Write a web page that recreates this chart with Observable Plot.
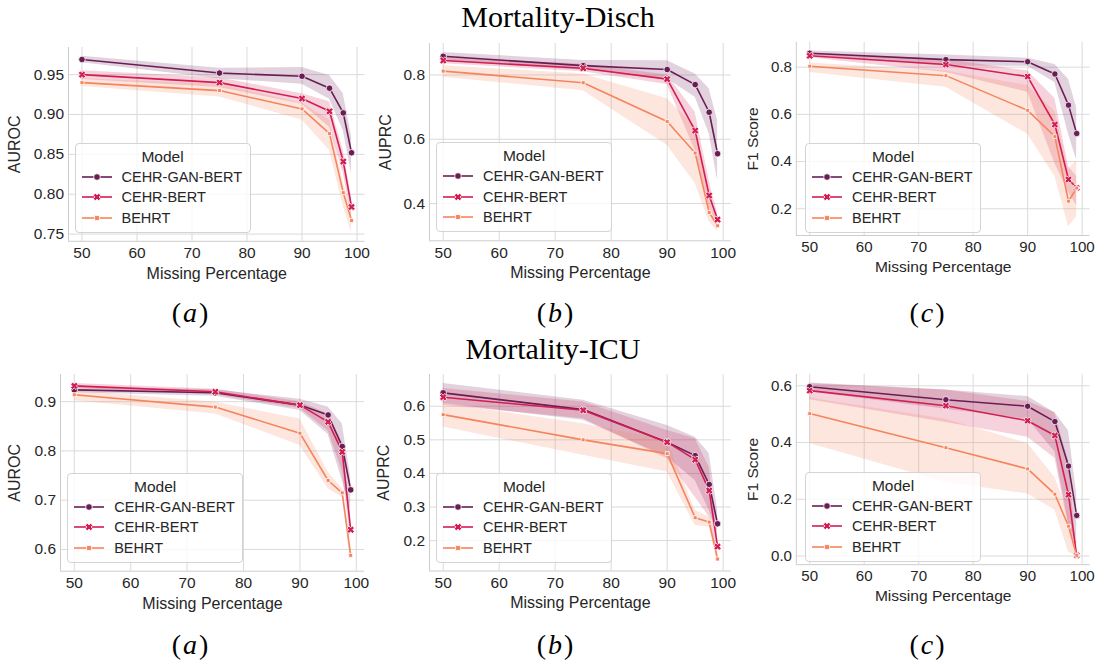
<!DOCTYPE html>
<html><head><meta charset="utf-8">
<script src="https://cdn.jsdelivr.net/npm/d3@7"></script>
<script src="https://cdn.jsdelivr.net/npm/@observablehq/plot@0.6"></script>
<style>
body{margin:0;background:#fff;}
#fig{position:relative;width:1109px;height:664px;overflow:hidden;background:#fff;font-family:"Liberation Sans",Arial,sans-serif;color:#262626;}
.panel{position:absolute;}
.panel svg{overflow:visible;}
.panel svg text{font-size:15.5px;fill:#262626;}
.panel svg g[aria-label$="axis label"] text{font-size:16px;}
.legend{position:absolute;border:1px solid #d4d4d4;border-radius:4px;background:rgba(255,255,255,0.8);box-sizing:border-box;}
.legend .lt{position:absolute;left:0;right:0;text-align:center;font-size:15.5px;line-height:16px;}
.legend .row{position:absolute;left:0;height:18px;font-size:14.5px;line-height:18px;white-space:nowrap;}
.legend .row svg{position:absolute;left:5px;top:0;}
.legend .row span{position:absolute;left:46px;top:0;}
#overlay{position:absolute;left:0;top:0;pointer-events:none;}
</style></head>
<body><div id="fig"></div>
<script>
// ---------------- data ----------------
const missing = [50, 75, 90, 95, 97.5, 99];
const xTicks = [50, 60, 70, 80, 90, 100];
const models = ["CEHR-GAN-BERT", "CEHR-BERT", "BEHRT"];
const modelColors = ["#6a1d55", "#d31d52", "#f5845c"];

// Mortality-Disch : AUROC
const dischAurocMean = [[0.969,0.952,0.948,0.933,0.902,0.852],[0.950,0.940,0.920,0.904,0.841,0.784],[0.940,0.930,0.907,0.876,0.802,0.767]];
const dischAurocLo   = [[0.965,0.945,0.938,0.919,0.880,0.826],[0.944,0.934,0.913,0.884,0.826,0.771],[0.935,0.922,0.893,0.855,0.785,0.752]];
const dischAurocHi   = [[0.973,0.958,0.959,0.949,0.926,0.872],[0.955,0.946,0.926,0.916,0.855,0.796],[0.945,0.938,0.914,0.893,0.815,0.779]];
// Mortality-Disch : AUPRC
const dischAuprcMean = [[0.858,0.829,0.817,0.770,0.684,0.555],[0.845,0.821,0.787,0.627,0.425,0.350],[0.812,0.776,0.655,0.557,0.372,0.331]];
const dischAuprcLo   = [[0.844,0.815,0.788,0.731,0.617,0.472],[0.835,0.810,0.770,0.565,0.390,0.333],[0.793,0.751,0.581,0.462,0.343,0.312]];
const dischAuprcHi   = [[0.870,0.845,0.844,0.803,0.757,0.658],[0.855,0.833,0.800,0.684,0.472,0.369],[0.829,0.803,0.726,0.638,0.410,0.343]];
// Mortality-Disch : F1
const dischF1Mean = [[0.859,0.832,0.823,0.771,0.639,0.519],[0.848,0.811,0.760,0.557,0.324,0.289],[0.804,0.764,0.617,0.506,0.232,0.288]];
const dischF1Lo   = [[0.850,0.804,0.804,0.735,0.516,0.406],[0.840,0.777,0.694,0.392,0.269,0.214],[0.777,0.715,0.516,0.337,0.124,0.166]];
const dischF1Hi   = [[0.868,0.852,0.838,0.811,0.749,0.626],[0.858,0.832,0.784,0.667,0.378,0.337],[0.818,0.784,0.722,0.612,0.365,0.406]];
// Mortality-ICU : AUROC
const icuAurocMean = [[0.924,0.918,0.893,0.873,0.809,0.721],[0.932,0.920,0.893,0.859,0.798,0.640],[0.914,0.889,0.836,0.740,0.715,0.588]];
const icuAurocLo   = [[0.918,0.911,0.882,0.834,0.740,0.679],[0.927,0.914,0.886,0.841,0.760,0.618],[0.902,0.875,0.811,0.723,0.706,0.574]];
const icuAurocHi   = [[0.930,0.924,0.905,0.889,0.855,0.747],[0.937,0.925,0.900,0.875,0.818,0.665],[0.922,0.899,0.865,0.757,0.723,0.598]];
// Mortality-ICU : AUPRC
const icuAuprcMean = [[0.640,0.590,0.493,0.453,0.367,0.250],[0.627,0.588,0.493,0.441,0.349,0.182],[0.575,0.500,0.459,0.268,0.255,0.145]];
const icuAuprcLo   = [[0.608,0.558,0.449,0.379,0.290,0.220],[0.603,0.563,0.444,0.329,0.270,0.155],[0.538,0.454,0.404,0.245,0.240,0.136]];
const icuAuprcHi   = [[0.668,0.618,0.543,0.508,0.459,0.290],[0.653,0.613,0.528,0.503,0.418,0.210],[0.608,0.548,0.498,0.290,0.270,0.155]];
// Mortality-ICU : F1
const icuF1Mean = [[0.597,0.551,0.528,0.474,0.317,0.143],[0.583,0.530,0.477,0.425,0.216,0.002],[0.502,0.382,0.307,0.218,0.105,0.002]];
const icuF1Lo   = [[0.579,0.517,0.482,0.368,0.117,0.037],[0.551,0.471,0.419,0.345,0.105,0.000],[0.397,0.259,0.219,0.162,0.014,0.000]];
const icuF1Hi   = [[0.610,0.585,0.562,0.505,0.442,0.219],[0.607,0.585,0.545,0.505,0.334,0.014],[0.557,0.482,0.397,0.277,0.151,0.008]];

const ticksAurocDisch = [0.75, 0.80, 0.85, 0.90, 0.95];
const ticksAuprcDisch = [0.4, 0.6, 0.8];
const ticksF1Disch = [0.2, 0.4, 0.6, 0.8];
const ticksAurocIcu = [0.6, 0.7, 0.8, 0.9];
const ticksAuprcIcu = [0.2, 0.3, 0.4, 0.5, 0.6];
const ticksF1Icu = [0.0, 0.2, 0.4, 0.6];

const titles = ["Mortality-Disch", "Mortality-ICU"];
const subLetters = ["a", "b", "c"];

// ---------------- layout ----------------
const panels = [
  {label:"AUROC", mean:dischAurocMean, lo:dischAurocLo, hi:dischAurocHi, ticks:ticksAurocDisch, fmt:".2f", frame:[67.5,364,46.7,240.5], ylab:60},
  {label:"AUPRC", mean:dischAuprcMean, lo:dischAuprcLo, hi:dischAuprcHi, ticks:ticksAuprcDisch, fmt:".1f", frame:[429,730.8,42.7,240], ylab:49.5},
  {label:"F1 Score", mean:dischF1Mean, lo:dischF1Lo, hi:dischF1Hi, ticks:ticksF1Disch, fmt:".1f", frame:[798,1099.8,42,240.5], ylab:50.5},
  {label:"AUROC", mean:icuAurocMean, lo:icuAurocLo, hi:icuAurocHi, ticks:ticksAurocIcu, fmt:".1f", frame:[60.2,364.2,374,570.7], ylab:51.5},
  {label:"AUPRC", mean:icuAuprcMean, lo:icuAuprcLo, hi:icuAuprcHi, ticks:ticksAuprcIcu, fmt:".1f", frame:[429,730.8,374,570.5], ylab:51.5},
  {label:"F1 Score", mean:icuF1Mean, lo:icuF1Lo, hi:icuF1Hi, ticks:ticksF1Icu, fmt:".1f", frame:[798,1099.8,374,569.6], ylab:50.5}
];

const symbolX = {
  draw(ctx, size) {
    const a = Math.sqrt(size) * 0.6, t = a * 0.38;
    const pts = [[-t,-a],[t,-a],[t,-t],[a,-t],[a,t],[t,t],[t,a],[-t,a],[-t,t],[-a,t],[-a,-t],[-t,-t]];
    pts.forEach(([x,y],i) => { const u=(x-y)*Math.SQRT1_2, v=(x+y)*Math.SQRT1_2; i ? ctx.lineTo(u,v) : ctx.moveTo(u,v); });
    ctx.closePath();
  }
};
const modelSymbols = [d3.symbolCircle, symbolX, d3.symbolSquare];
const modelR = [3.3, 3.6, 2.2];

const fig = document.getElementById("fig");
const xDomain = [d3.min(missing) - 0.05*(d3.max(missing)-d3.min(missing)), d3.max(missing) + 0.05*(d3.max(missing)-d3.min(missing))];

panels.forEach(p => {
  const rows = [];
  models.forEach((m, i) => missing.forEach((x, j) => rows.push({model:m, x, y:p.mean[i][j], lo:p.lo[i][j], hi:p.hi[i][j]})));
  const lo = d3.min(rows, d => Math.min(d.lo, d.y)), hi = d3.max(rows, d => Math.max(d.hi, d.y));
  const yDomain = [lo - 0.05*(hi-lo), hi + 0.05*(hi-lo)];
  const [L, R, T, B] = p.frame;
  const mL = 80, mR = 20, mT = 6, mB = 50;
  const W = R - L + mL + mR, H = B - T + mT + mB;
  const gridStyle = {stroke:"#dadada", strokeOpacity:1, strokeWidth:1};
  const chart = Plot.plot({
    width: W, height: H, marginLeft: mL, marginRight: mR, marginTop: mT, marginBottom: mB,
    style: {fontFamily:"'Liberation Sans', Arial, sans-serif", fontSize:"15.5px", color:"#262626", background:"transparent", overflow:"visible"},
    x: {domain: xDomain},
    y: {domain: yDomain},
    color: {domain: models, range: modelColors},
    marks: [
      Plot.gridX(xTicks, gridStyle),
      Plot.gridY(p.ticks, gridStyle),
      Plot.ruleX([xDomain[0]], {stroke:"#cccccc", strokeWidth:1}),
      Plot.ruleY([yDomain[0]], {stroke:"#cccccc", strokeWidth:1}),
      Plot.areaY(rows, {x:"x", y1:"lo", y2:"hi", z:"model", fill:"model", fillOpacity:0.2}),
      Plot.line(rows, {x:"x", y:"y", z:"model", stroke:"model", strokeWidth:1.6}),
      ...models.map((m, i) => Plot.dot(rows.filter(d => d.model === m), {x:"x", y:"y", fill:"model", symbol: modelSymbols[i], r: modelR[i], stroke:"white", strokeWidth:0.8})),
      Plot.axisX({ticks: xTicks, tickSize:0, tickPadding:6, label:"Missing Percentage", labelAnchor:"center", labelOffset:37.5, labelArrow:"none"}),
      Plot.axisY({ticks: p.ticks, tickSize:0, tickPadding:4.5, tickFormat: d3.format(p.fmt), label:p.label, labelAnchor:"center", labelOffset:p.ylab, labelArrow:"none"})
    ]
  });
  const wrap = document.createElement("div");
  wrap.className = "panel";
  wrap.style.left = (L - mL) + "px";
  wrap.style.top = (T - mT) + "px";
  wrap.appendChild(chart);
  fig.appendChild(wrap);

  // legend (inside panel, lower left)
  const lg = document.createElement("div");
  lg.className = "legend";
  const lw = 176, lh = 90;
  lg.style.left = (L + 7) + "px";
  lg.style.top = (B - 8 - lh) + "px";
  lg.style.width = lw + "px";
  lg.style.height = lh + "px";
  const t = document.createElement("div");
  t.className = "lt"; t.style.top = "5px"; t.textContent = "Model";
  lg.appendChild(t);
  models.forEach((m, i) => {
    const row = document.createElement("div");
    row.className = "row";
    row.style.top = (24 + i*20.7) + "px";
    row.style.width = lw + "px";
    const s = d3.create("svg").attr("width", 34).attr("height", 18);
    s.append("line").attr("x1", 1).attr("x2", 31).attr("y1", 9).attr("y2", 9).attr("stroke", modelColors[i]).attr("stroke-width", 1.6);
    s.append("path").attr("transform", "translate(16,9)")
      .attr("d", d3.symbol(modelSymbols[i], Math.PI * Math.pow(modelR[i] * (i === 2 ? 1.25 : 1), 2))())
      .attr("fill", modelColors[i]).attr("stroke", "white").attr("stroke-width", 0.8);
    row.appendChild(s.node());
    const sp = document.createElement("span");
    sp.textContent = m;
    row.appendChild(sp);
    lg.appendChild(row);
  });
  fig.appendChild(lg);
});

// titles and sub-captions
const ov = d3.create("svg").attr("id", "overlay").attr("width", 1109).attr("height", 664);
const titlePos = [[558, 27], [553, 359]];
titles.forEach((tt, i) => ov.append("text").attr("x", titlePos[i][0]).attr("y", titlePos[i][1])
  .attr("text-anchor", "middle").attr("font-family", "'Liberation Serif', serif").attr("font-size", 30).attr("fill", "#000").text(tt));
const subX = [190, 555, 927], subY = [322, 654];
subY.forEach(y => subLetters.forEach((l, j) => {
  const tx = ov.append("text").attr("x", subX[j]).attr("y", y).attr("text-anchor", "middle")
    .attr("font-family", "'Liberation Serif', serif").attr("font-size", 28).attr("fill", "#000");
  tx.append("tspan").text("(");
  tx.append("tspan").attr("font-style", "italic").attr("dx", 2).text(l);
  tx.append("tspan").attr("dx", 2).text(")");
}));
fig.appendChild(ov.node());
</script>
</body></html>
